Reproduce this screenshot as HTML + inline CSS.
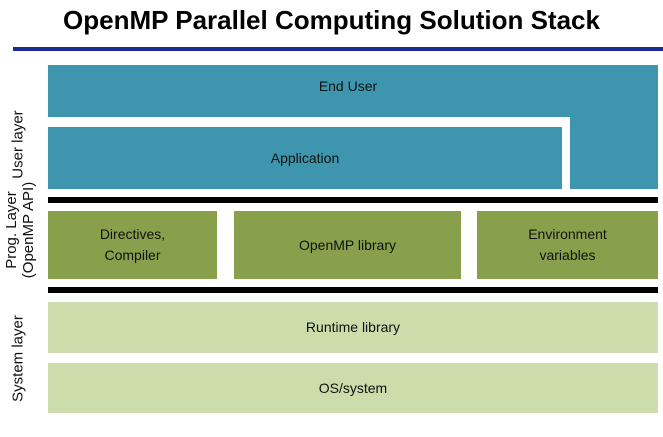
<!DOCTYPE html>
<html><head><meta charset="utf-8"><style>
body{margin:0;width:663px;height:437px;background:#fff;position:relative;overflow:hidden;font-family:"Liberation Sans",sans-serif;}
div{position:absolute;box-sizing:border-box;}
.t{color:#111;font-size:14px;display:flex;align-items:center;justify-content:center;text-align:center;line-height:21px;}
.b{background:#3E96AE;}
.g{background:#88A04C;}
.l{background:#CCDCAB;}
.k{background:#000;left:48px;width:610px;height:6px;}
.r{transform:rotate(-90deg);white-space:nowrap;font-size:15px;color:#111;text-align:center;line-height:17px;}
</style></head><body>
<div style="left:0;top:5px;width:663px;text-align:center;font-size:26px;font-weight:bold;color:#000;">OpenMP Parallel Computing Solution Stack</div>
<div style="left:13px;top:47px;width:650px;height:4px;background:#1a2a9c;"></div>
<div class="b" style="left:48px;top:65px;width:610px;height:52px;"></div>
<div class="b" style="left:570px;top:115px;width:88px;height:74px;"></div>
<div class="t" style="left:48px;top:65px;width:600px;height:42px;">End User</div>
<div class="b t" style="left:48px;top:127px;width:514px;height:62px;">Application</div>
<div class="k" style="top:197px;"></div>
<div class="g t" style="left:48px;top:211px;width:169px;height:68px;">Directives,<br>Compiler</div>
<div class="g t" style="left:234px;top:211px;width:227px;height:68px;">OpenMP library</div>
<div class="g t" style="left:477px;top:211px;width:181px;height:68px;">Environment<br>variables</div>
<div class="k" style="top:287px;"></div>
<div class="l t" style="left:48px;top:302px;width:610px;height:51px;">Runtime library</div>
<div class="l t" style="left:48px;top:363px;width:610px;height:50px;">OS/system</div>
<div class="r" style="left:-32px;top:136px;width:100px;">User layer</div>
<div class="r" style="left:-40px;top:213px;width:120px;">Prog. Layer<br>(OpenMP API)</div>
<div class="r" style="left:-37px;top:350px;width:110px;">System layer</div>
</body></html>
